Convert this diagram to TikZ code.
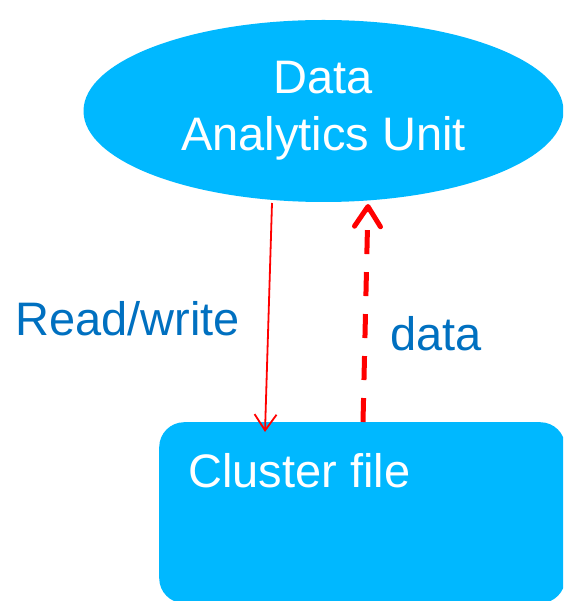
\documentclass[tikz,border=0pt]{standalone}
\usepackage{fontspec}
\setmainfont{Liberation Sans}
\usetikzlibrary{shapes.geometric,arrows.meta}
\definecolor{unitblue}{RGB}{0,184,255}
\definecolor{labelblue}{RGB}{0,112,192}
\definecolor{linkred}{RGB}{255,0,0}
\tikzset{
  bigtext/.style={font=\fontsize{47}{57}\selectfont},
  unit/.style={ellipse, fill=unitblue, draw=none, text=white, bigtext,
    align=center, minimum width=480pt, minimum height=182pt, inner sep=0pt},
  store/.style={rectangle, rounded corners=25pt, fill=unitblue, draw=none,
    minimum width=406pt, minimum height=181pt, anchor=north west},
  storetext/.style={text=white, bigtext, anchor=base west, inner sep=0pt},
  linklabel/.style={text=labelblue, bigtext, anchor=base west, inner sep=0pt},
  rwlink/.style={draw=linkred, line width=1.8pt,
    -{Straight Barb[length=16pt,width=22pt,line width=1.8pt]}},
  datalink/.style={draw=linkred, line width=5pt, dash pattern=on 24pt off 18pt,
    -{Straight Barb[length=20pt,width=26pt,line width=5pt,line join=round,line cap=round]}}
}
\begin{document}
\begin{tikzpicture}[x=1pt,y=-1pt]
  \useasboundingbox (0,0) rectangle (563,601);
  \begin{scope}
    \clip (0,0) rectangle (563,601);
    % analytics unit
    \node[unit] (dau) at (323.5,111) {Data\\Analytics Unit};
    % cluster file store
    \node[store] (cf) at (159,422) {};
  \end{scope}
  \node[storetext] (cftext) at (188,487) {Cluster file};

  % connector end points on the two shapes
  \coordinate (rwStart) at (272,203);
  \coordinate (rwEnd) at (265,432);
  \coordinate (dStart) at (363,422);
  \coordinate (dEnd) at (368,204);

  \draw[rwlink] (rwStart) -- (rwEnd);
  \draw[datalink] (dStart) -- (dEnd);

  \node[linklabel] (rwlabel) at (15,335) {Read/write};
  \node[linklabel] (dlabel) at (390,350) {data};
\end{tikzpicture}
\end{document}
